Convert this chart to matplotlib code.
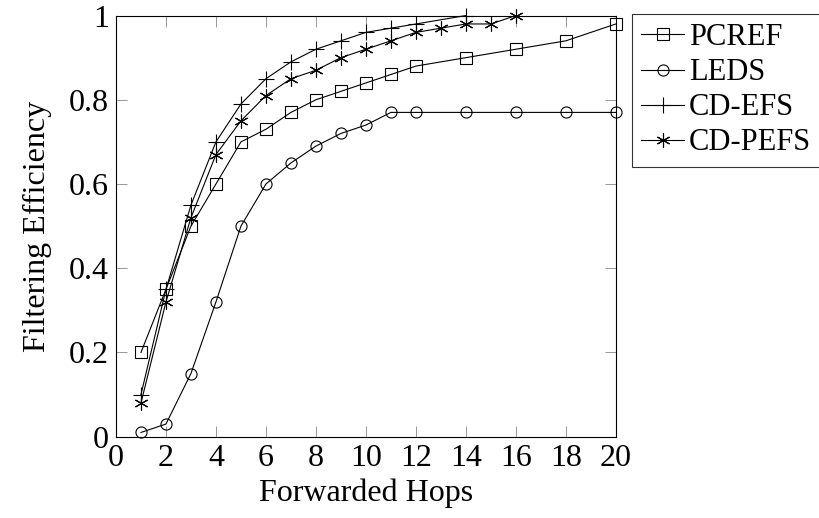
import matplotlib
matplotlib.use('Agg')
from matplotlib import pyplot as plt

plt.rcParams['font.family'] = ['Liberation Serif', 'DejaVu Serif']
plt.rcParams['font.size'] = 23

# data
hops_pcref = [1, 2, 3, 4, 5, 6, 7, 8, 9, 10, 11, 12, 14, 16, 18, 20]
pcref = [0.20, 0.35, 0.50, 0.60, 0.70, 0.73, 0.77, 0.80, 0.82, 0.84,
         0.86, 0.88, 0.90, 0.92, 0.94, 0.98]

hops_leds = [1, 2, 3, 4, 5, 6, 7, 8, 9, 10, 11, 12, 14, 16, 18, 20]
leds = [0.01, 0.03, 0.15, 0.32, 0.50, 0.60, 0.65, 0.69, 0.72, 0.74,
        0.77, 0.77, 0.77, 0.77, 0.77, 0.77]

hops_efs = [1, 2, 3, 4, 5, 6, 7, 8, 9, 10, 11, 12, 14]
cd_efs = [0.10, 0.35, 0.55, 0.70, 0.79, 0.85, 0.89, 0.92, 0.94, 0.96,
          0.97, 0.98, 1.00]

hops_pefs = [1, 2, 3, 4, 5, 6, 7, 8, 9, 10, 11, 12, 13, 14, 15, 16]
cd_pefs = [0.08, 0.32, 0.52, 0.67, 0.75, 0.81, 0.85, 0.87, 0.90, 0.92,
           0.94, 0.96, 0.97, 0.98, 0.98, 1.00]

fig = plt.figure(figsize=(8.19, 5.18), dpi=100)
ax = fig.add_axes([0.1416, 0.157, 0.6104, 0.813])

lw = 0.8
ax.plot(hops_pcref, pcref, color='black', lw=lw, marker='s', ms=8,
        mfc='none', mec='black', mew=0.8, label='PCREF', clip_on=False)
ax.plot(hops_leds, leds, color='black', lw=lw, marker='o', ms=8,
        mfc='none', mec='black', mew=0.8, label='LEDS', clip_on=False)
ax.plot(hops_efs, cd_efs, color='black', lw=lw, marker='+', ms=11,
        mew=0.8, label='CD-EFS', clip_on=False)
ax.plot(hops_pefs, cd_pefs, color='black', lw=lw, marker=(6, 2, 0), ms=10,
        mew=0.8, label='CD-PEFS', clip_on=False)

ax.set_xlim(0, 20)
ax.set_ylim(0, 1)
ax.set_xticks(range(0, 21, 2))
ax.set_yticks([0, 0.2, 0.4, 0.6, 0.8, 1])
ax.set_yticklabels(['0', '0.2', '0.4', '0.6', '0.8', '1'])
ax.tick_params(direction='in', length=8, width=0.6, color='#888888',
               top=True, right=True, pad=5)
for s in ax.spines.values():
    s.set_linewidth(0.8)

ax.set_xlabel('Forwarded Hops', labelpad=4)
ax.set_ylabel('Filtering Efficiency', labelpad=12)

leg = ax.legend(loc='upper left', bbox_to_anchor=(0.772, 0.973),
                bbox_transform=fig.transFigure, fancybox=False,
                fontsize=22, edgecolor='black', handlelength=1.4,
                labelspacing=0.2, handletextpad=0.15, borderpad=0.3,
                borderaxespad=0)
leg.get_frame().set_linewidth(0.8)

fig.savefig('out.png', dpi=100)
